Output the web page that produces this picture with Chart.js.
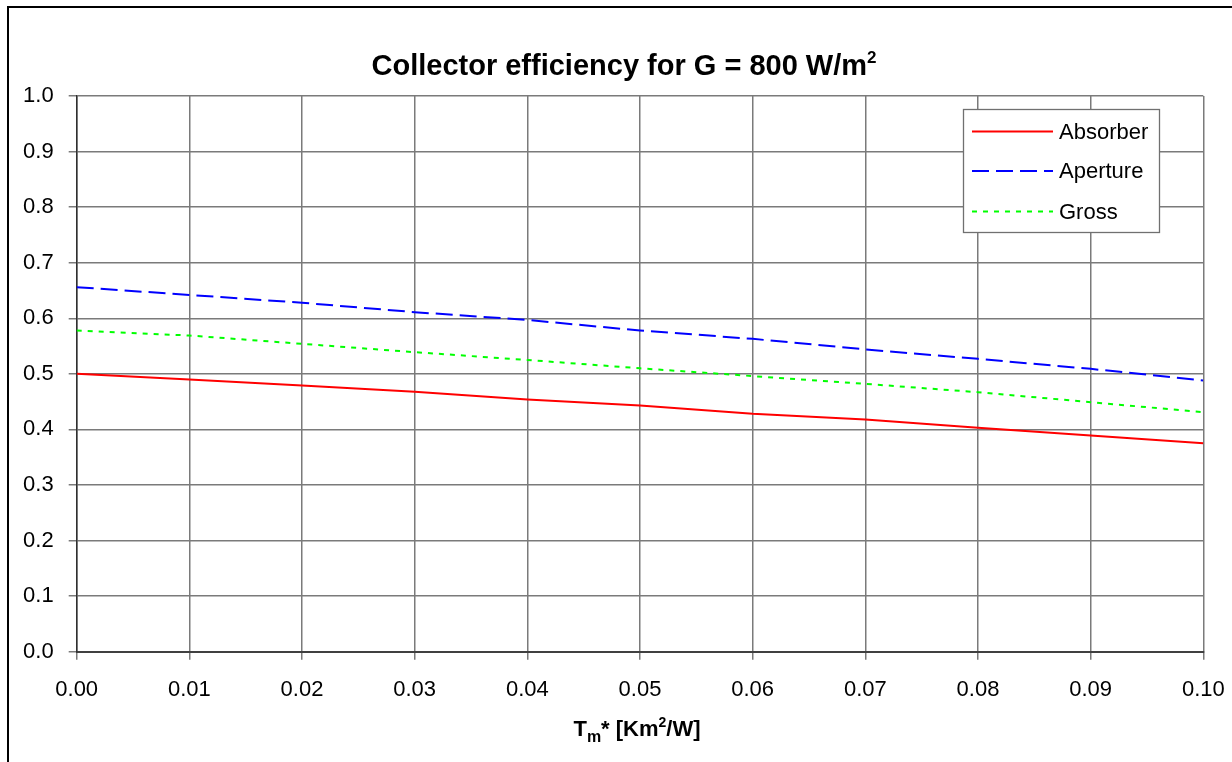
<!DOCTYPE html>
<html>
<head>
<meta charset="utf-8">
<script src="https://cdn.jsdelivr.net/npm/chart.js@4"></script>
<style>
html,body{margin:0;padding:0;background:#fff;overflow:hidden;}
#wrap{position:absolute;left:0;top:0;width:1232px;height:762px;}
</style>
</head>
<body>
<div id="wrap"><canvas id="c" width="1232" height="762"></canvas></div>
<script>
const xValues = [0.00, 0.01, 0.02, 0.03, 0.04, 0.05, 0.06, 0.07, 0.08, 0.09, 0.10];
const absorber = [0.500, 0.490, 0.479, 0.468, 0.454, 0.443, 0.428, 0.418, 0.403, 0.389, 0.375];
const aperture = [0.656, 0.642, 0.628, 0.611, 0.597, 0.578, 0.563, 0.544, 0.527, 0.509, 0.488];
const gross    = [0.578, 0.569, 0.554, 0.539, 0.525, 0.510, 0.496, 0.482, 0.467, 0.449, 0.431];
const xTicks = [0.00, 0.01, 0.02, 0.03, 0.04, 0.05, 0.06, 0.07, 0.08, 0.09, 0.10];
const yTicks = [0.0, 0.1, 0.2, 0.3, 0.4, 0.5, 0.6, 0.7, 0.8, 0.9, 1.0];
const seriesNames = ['Absorber', 'Aperture', 'Gross'];

const FONT = "'Liberation Sans', Arial, sans-serif";

function pts(arr){ return xValues.map((x,i)=>({x:x, y:arr[i]})); }

function drawRich(ctx, parts, cx, baseline){
  let total = 0;
  parts.forEach(p=>{ ctx.font = 'bold ' + p.size + 'px ' + FONT; p.w = ctx.measureText(p.t).width; total += p.w; });
  let x = cx - total/2;
  ctx.textAlign = 'left';
  ctx.textBaseline = 'alphabetic';
  parts.forEach(p=>{ ctx.font = 'bold ' + p.size + 'px ' + FONT; ctx.fillText(p.t, x, baseline + (p.dy||0)); x += p.w; });
}

const decor = {
  id:'decor',
  beforeDraw(chart){
    const ctx = chart.ctx;
    ctx.save();
    ctx.fillStyle = '#fff';
    ctx.fillRect(0,0,chart.width,chart.height);
    ctx.strokeStyle = '#000';
    ctx.lineWidth = 2;
    ctx.strokeRect(8, 7, 1400, 1000);
    ctx.restore();
  },
  afterDraw(chart){
    const ctx = chart.ctx;
    ctx.save();
    ctx.fillStyle = '#000';
    drawRich(ctx, [
      {t:'Collector efficiency for G = 800 W/m', size:29},
      {t:'2', size:17, dy:-12}
    ], 624, 75);
    drawRich(ctx, [
      {t:'T', size:22},
      {t:'m', size:16, dy:6},
      {t:'* [Km', size:22},
      {t:'2', size:14, dy:-9},
      {t:'/W]', size:22}
    ], 637, 736);

    // legend
    const bx = 963.5, by = 109.5, bw = 196, bh = 123;
    ctx.fillStyle = '#fff';
    ctx.fillRect(bx, by, bw, bh);
    ctx.strokeStyle = '#707070';
    ctx.lineWidth = 1.3;
    ctx.strokeRect(bx, by, bw, bh);
    const rows = [131.5, 171, 211.5];
    chart.data.datasets.forEach((ds, i)=>{
      ctx.beginPath();
      ctx.strokeStyle = ds.borderColor;
      ctx.lineWidth = 2;
      ctx.setLineDash(ds.borderDash || []);
      ctx.moveTo(972, rows[i]);
      ctx.lineTo(1053, rows[i]);
      ctx.stroke();
      ctx.setLineDash([]);
      ctx.fillStyle = '#000';
      ctx.font = '22px ' + FONT;
      ctx.textAlign = 'left';
      ctx.textBaseline = 'middle';
      ctx.fillText(ds.label, 1059, rows[i] + 1);
    });
    ctx.restore();
  }
};

new Chart(document.getElementById('c'), {
  type:'line',
  data:{
    datasets:[
      {label:seriesNames[0], data:pts(absorber), borderColor:'#ff0000', borderWidth:2, pointRadius:0, tension:0, fill:false},
      {label:seriesNames[1], data:pts(aperture), borderColor:'#0000ff', borderWidth:2, borderDash:[17,7], pointRadius:0, tension:0, fill:false},
      {label:seriesNames[2], data:pts(gross), borderColor:'#00ff00', borderWidth:2, borderDash:[5,6], pointRadius:0, tension:0, fill:false}
    ]
  },
  options:{
    responsive:false,
    animation:false,
    events:[],
    layout:{padding:{left:0, right:28.7, top:96, bottom:0}},
    plugins:{legend:{display:false}, title:{display:false}, tooltip:{enabled:false}},
    scales:{
      x:{
        type:'linear', min:0, max:0.1,
        afterBuildTicks(s){ s.ticks = xTicks.map(v=>({value:v})); },
        afterFit(s){ s.height = 110.3; s.paddingLeft = 0; s.paddingRight = 0; },
        ticks:{ callback:(v)=>Number(v).toFixed(2), color:'#000', font:{family:FONT, size:22}, padding:17, maxRotation:0, autoSkip:false },
        grid:{ color:'#7a7a7a', lineWidth:1.5, tickLength:8, drawTicks:true },
        border:{ color:'#404040', width:2 }
      },
      y:{
        type:'linear', min:0, max:1,
        afterBuildTicks(s){ s.ticks = yTicks.map(v=>({value:v})); },
        afterFit(s){ s.width = 76.7; s.paddingTop = 0; s.paddingBottom = 0; },
        ticks:{ callback:(v)=>Number(v).toFixed(1), color:'#000', font:{family:FONT, size:22}, padding:15, autoSkip:false },
        grid:{ color:'#7a7a7a', lineWidth:1.5, tickLength:8, drawTicks:true },
        border:{ color:'#303030', width:1.5 }
      }
    }
  },
  plugins:[decor]
});
</script>
</body>
</html>
